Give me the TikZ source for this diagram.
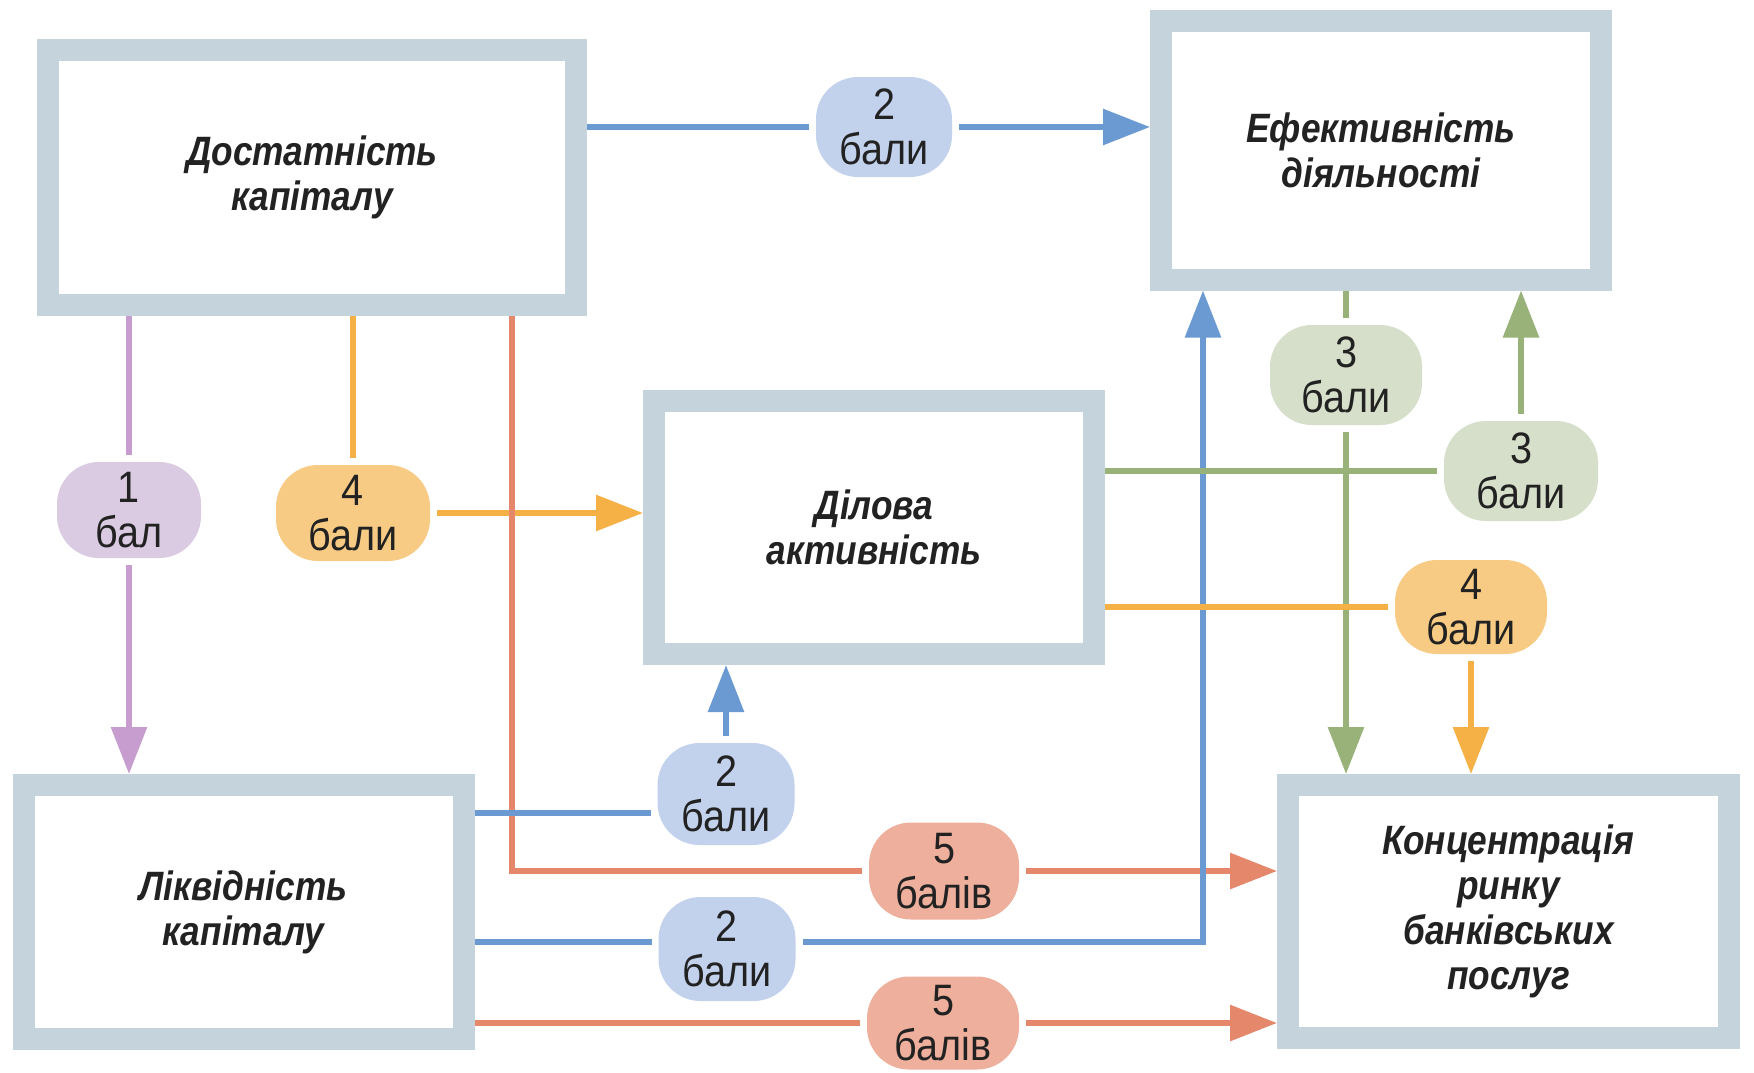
\documentclass[tikz,border=0pt]{standalone}
\usepackage{fontspec}
\setmainfont{Liberation Sans}
\newfontfamily\condfont{Liberation Sans}[FakeStretch=0.86]
\newfontfamily\pillfont{Liberation Sans}[FakeStretch=0.9]
\usetikzlibrary{arrows.meta}
\definecolor{boxgray}{HTML}{C5D3DC}
\definecolor{blueline}{HTML}{6B9AD3}
\definecolor{bluepill}{HTML}{C3D2EC}
\definecolor{purpleline}{HTML}{C79CCF}
\definecolor{purplepill}{HTML}{DACBE3}
\definecolor{orangeline}{HTML}{F5B046}
\definecolor{orangepill}{HTML}{F8CB85}
\definecolor{redline}{HTML}{E4876B}
\definecolor{redpill}{HTML}{EEB09C}
\definecolor{greenline}{HTML}{98B279}
\definecolor{greenpill}{HTML}{D6DFC9}
\definecolor{ink}{HTML}{222222}
\begin{document}
\begin{tikzpicture}[x=0.5pt,y=-0.5pt,
  box/.style={draw=boxgray, line width=11pt, fill=white, outer sep=5.5pt,
    minimum width=220pt, minimum height=127pt, inner sep=0pt, align=center,
    font=\condfont\fontsize{20.5}{22.5}\selectfont\bfseries\itshape, text=ink},
  pill/.style={fill=#1, rounded corners=21pt, minimum width=75pt, minimum height=50pt,
    inner sep=0pt, outer sep=3.5pt, align=center,
    font=\pillfont\fontsize{22}{22.5}\selectfont, text=ink},
  conn/.style={line width=3pt, draw=#1},
  arr/.style={-{Triangle[length=23.5pt,width=17.5pt]}}
]
\fill[white] (0,0) rectangle (1754,1072);
\useasboundingbox (0,0) rectangle (1754,1072);

% boxes
\node[box, minimum width=264pt, minimum height=127.5pt] (A) at (312,177.5) {Достатність\\капіталу};
\node[box, minimum height=129.5pt] (E) at (1381,150) {Ефективність\\діяльності};
\node[box, minimum height=126.5pt] (D) at (874,527.5) {Ділова\\активність};
\node[box] (L) at (243.5,912) {Ліквідність\\капіталу};
\node[box, minimum width=220.5pt, minimum height=126.5pt] (K) at (1508.5,911.5) {Концентрація\\ринку\\банківських\\послуг};

% pills
\node[pill=bluepill, minimum width=68pt] (P1) at (884,127) {2\\бали};
\node[pill=purplepill, minimum width=72pt, minimum height=48pt] (P2) at (129,510) {1\\бал};
\node[pill=orangepill, minimum width=77pt, minimum height=48pt] (P3) at (353,513) {4\\бали};
\node[pill=greenpill, minimum width=76pt] (P4) at (1346,375) {3\\бали};
\node[pill=greenpill, minimum width=77pt] (P5) at (1521,471) {3\\бали};
\node[pill=orangepill, minimum width=76pt, minimum height=47pt] (P6) at (1471,607) {4\\бали};
\node[pill=bluepill, minimum width=68.5pt, minimum height=51pt] (P7) at (726,794) {2\\бали};
\node[pill=redpill, minimum width=75pt, minimum height=48.5pt] (P8) at (944,871) {5\\балів};
\node[pill=bluepill, minimum width=68.5pt, minimum height=52pt] (P9) at (727,949) {2\\бали};
\node[pill=redpill, minimum width=76pt, minimum height=46.5pt] (P10) at (943,1023) {5\\балів};

% helper coordinates
\coordinate (xr) at (512,0);
\coordinate (xb) at (1203,0);
\coordinate (yb1) at (0,813);
\coordinate (yb2) at (0,942);

% connectors
\draw[conn=purpleline] (A.south -| P2) -- (P2.north);
\draw[conn=purpleline, arr] (P2.south) -- (P2.south |- L.north);

\draw[conn=orangeline] (A.south -| P3) -- (P3.north);
\draw[conn=orangeline, arr] (P3.east) -- (P3.east -| D.west);

\draw[conn=redline] (xr |- A.south) |- (P8.west);
\draw[conn=redline, arr] (P8.east) -- (P8.east -| K.west);

\draw[conn=blueline] (A.east |- P1) -- (P1.west);
\draw[conn=blueline, arr] (P1.east) -- (P1.east -| E.west);

\draw[conn=blueline] (L.east |- yb1) -- (P7.west |- yb1);
\draw[conn=blueline, arr] (P7.north) -- (P7.north |- D.south);

\draw[conn=blueline] (L.east |- yb2) -- (P9.west |- yb2);
\draw[conn=blueline, arr] (P9.east |- yb2) -| (xb |- E.south);

\draw[conn=redline] (L.east |- P10) -- (P10.west);
\draw[conn=redline, arr] (P10.east) -- (P10.east -| K.west);

\draw[conn=greenline] (D.east |- P5) -- (P5.west);
\draw[conn=greenline, arr] (P5.north) -- (P5.north |- E.south);

\draw[conn=greenline] (E.south -| P4) -- (P4.north);
\draw[conn=greenline, arr] (P4.south) -- (P4.south |- K.north);

\draw[conn=orangeline] (D.east |- P6) -- (P6.west);
\draw[conn=orangeline, arr] (P6.south) -- (P6.south |- K.north);
\end{tikzpicture}
\end{document}
